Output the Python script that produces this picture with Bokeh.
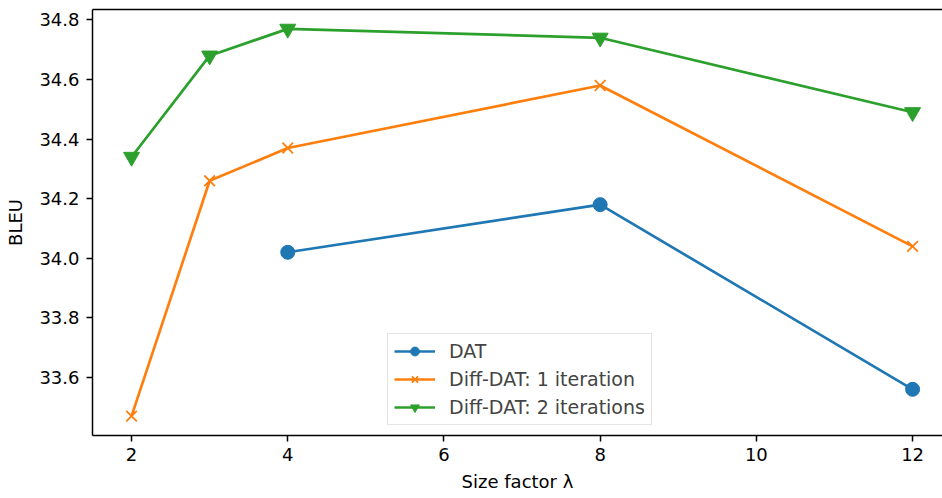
from bokeh.plotting import figure
from bokeh.models import Range1d, Legend, LegendItem, LinearAxis, FixedTicker
from bokeh.embed import file_html
from bokeh.resources import INLINE

x_dat = [4, 8, 12]
y_dat = [34.02, 34.18, 33.56]
x_d1 = [2, 3, 4, 8, 12]
y_d1 = [33.47, 34.26, 34.37, 34.58, 34.04]
x_d2 = [2, 3, 4, 8, 12]
y_d2 = [34.34, 34.68, 34.77, 34.74, 34.49]
labels = ["DAT", "Diff-DAT: 1 iteration", "Diff-DAT: 2 iterations"]
x_ticks = [2, 4, 6, 8, 10, 12]
y_ticks = [33.6, 33.8, 34.0, 34.2, 34.4, 34.6, 34.8]
y_tick_labels = {33.6: "33.6", 33.8: "33.8", 34.0: "34.0", 34.2: "34.2",
                 34.4: "34.4", 34.6: "34.6", 34.8: "34.8"}

FONT = "DejaVu Sans"
FS = "18px"
p = figure(width=942, height=498, output_backend="svg", toolbar_location=None,
           x_range=Range1d(1.5, 12.383), y_range=Range1d(33.405, 34.835),
           min_border_left=92, min_border_right=0, min_border_top=9, min_border_bottom=63,
           x_axis_label="Size factor λ", y_axis_label="BLEU")
p.outline_line_color = None
p.grid.visible = False
p.background_fill_color = "white"

for ax in [p.xaxis[0], p.yaxis[0]]:
    ax.major_label_text_font = FONT
    ax.major_label_text_font_size = FS
    ax.axis_label_text_font = FONT
    ax.axis_label_text_font_size = FS
    ax.axis_label_text_font_style = "normal"
    ax.major_tick_in = 0
    ax.major_tick_out = 6
    ax.minor_tick_line_color = None
    ax.axis_line_width = 1.5
    ax.major_tick_line_width = 1.5
    ax.major_label_text_color = "black"
    ax.axis_label_text_color = "black"
p.xaxis.ticker = FixedTicker(ticks=x_ticks)
p.yaxis.ticker = FixedTicker(ticks=y_ticks)
p.yaxis.major_label_overrides = y_tick_labels
p.xaxis.major_label_standoff = 6
p.yaxis.major_label_standoff = 7
p.xaxis.axis_label_standoff = 7
p.yaxis.axis_label_standoff = 10

top = LinearAxis(major_tick_line_color=None, minor_tick_line_color=None,
                 major_label_text_font_size="0px", axis_line_width=1.5,
                 major_label_standoff=0)
top.ticker = FixedTicker(ticks=[])
p.add_layout(top, "above")

c1, c2, c3 = "#1f77b4", "#ff7f0e", "#2ca02c"
LW = 2.7
l1 = p.line(x_dat, y_dat, line_color=c1, line_width=LW)
s1 = p.scatter(x_dat, y_dat, marker="circle", size=14, fill_color=c1, line_color=c1)
l2 = p.line(x_d1, y_d1, line_color=c2, line_width=LW)
s2 = p.scatter(x_d1, y_d1, marker="x", size=15, line_color=c2, line_width=1.8)
l3 = p.line(x_d2, y_d2, line_color=c3, line_width=LW)
s3 = p.scatter(x_d2, y_d2, marker="inverted_triangle", size=16, fill_color=c3, line_color=c3)

legend = Legend(items=[LegendItem(label=labels[0], renderers=[l1, s1]),
                       LegendItem(label=labels[1], renderers=[l2, s2]),
                       LegendItem(label=labels[2], renderers=[l3, s3])],
                location=(295, 10), label_text_font=FONT, label_text_font_size="19px",
                glyph_width=41, glyph_height=22, label_height=22, spacing=6,
                label_standoff=14, padding=6, margin=0,
                border_line_color="#cccccc", border_line_width=1.2,
                background_fill_alpha=0.8)
p.add_layout(legend, "center")

open("out.html", "w").write(file_html(p, INLINE))
